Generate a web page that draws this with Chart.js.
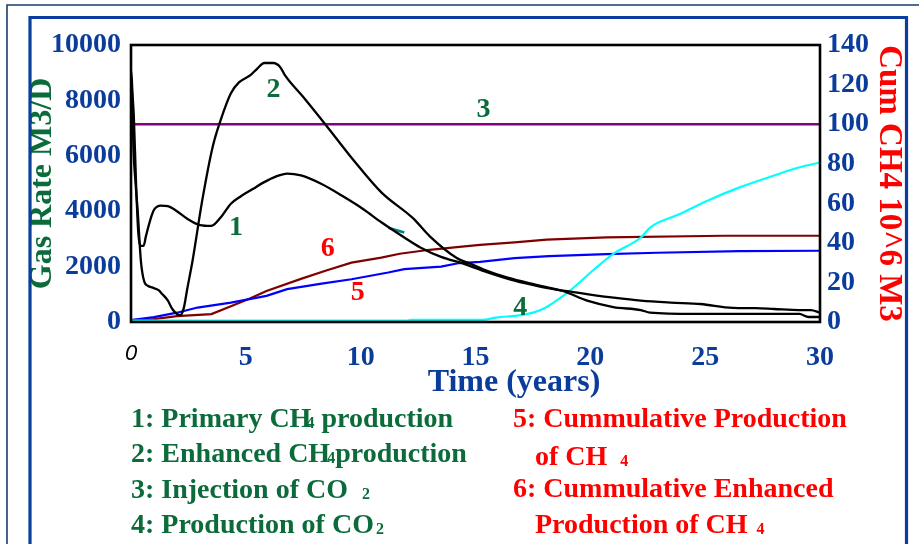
<!DOCTYPE html>
<html>
<head>
<meta charset="utf-8">
<script src="https://cdn.jsdelivr.net/npm/chart.js@4.4.1/dist/chart.umd.min.js"></script>
<style>
html, body { margin: 0; padding: 0; background: #fff; }
#wrap { width: 919px; height: 544px; }
</style>
</head>
<body>
<div id="wrap"><canvas id="chart1" width="919" height="544"></canvas></div>
<script>
// 1: primary CH4 production (gas rate, m3/d)
const primaryTime = [0, 0.12, 0.22, 0.32, 0.45, 0.55, 0.65, 0.87, 1.0, 1.3, 1.6, 2.0, 2.45, 3.0, 3.5, 3.9, 4.35, 4.8, 5.3, 5.8, 6.3, 6.8, 7.4, 8.3, 9.3, 10.1, 10.9, 11.9, 12.6, 13.5, 14.5, 15.5, 16.7, 17.8, 18.9, 20.0, 21.0, 22.2, 23.5, 24.8, 26.2, 27.2, 28.0, 29.1, 29.6, 30];
const primaryRate = [8800, 7500, 5000, 3200, 2750, 2750, 3100, 3770, 4050, 4200, 4180, 4000, 3730, 3500, 3470, 3770, 4270, 4550, 4800, 5050, 5250, 5360, 5290, 4980, 4500, 4080, 3600, 3050, 2690, 2350, 2100, 1800, 1490, 1280, 1120, 990, 880, 770, 700, 650, 510, 500, 470, 430, 430, 340];

// 2: enhanced CH4 production
const enhancedTime = [0, 0.05, 0.1, 0.2, 0.29, 0.43, 0.57, 0.75, 0.94, 1.2, 1.36, 1.6, 1.8, 2.0, 2.15, 2.3, 2.45, 2.68, 3.1, 3.55, 3.9, 4.35, 4.7, 5.2, 5.5, 5.8, 6.2, 6.5, 6.7, 7.5, 8.55, 9.7, 10.9, 12.3, 13.0, 14.2, 14.8, 15.5, 16.4, 17.6, 18.8, 19.9, 21.0, 22.2, 22.6, 24.5, 29.1, 29.5, 30];
const enhancedRate = [9050, 8500, 6450, 5000, 4020, 2210, 1480, 1300, 1240, 1150, 1010, 780, 470, 290, 250, 510, 1200, 2210, 4380, 6300, 7280, 8260, 8650, 8910, 9150, 9350, 9350, 9200, 8910, 8120, 7040, 5830, 4680, 3730, 3100, 2300, 2100, 1850, 1600, 1350, 1120, 760, 540, 430, 340, 290, 290, 180, 180];

// 3: injection of CO2
const injectionTime = [0, 30];
const injectionRate = [7140, 7140];

// 4: production of CO2
const co2Time = [0, 12.0, 12.2, 15.3, 15.9, 17.0, 17.5, 18.0, 18.4, 19.1, 20.1, 21.0, 22.2, 22.6, 23.9, 25.1, 26.5, 28.0, 29.0, 30];
const co2Rate = [50, 50, 80, 80, 160, 250, 340, 500, 700, 1120, 1850, 2460, 3050, 3410, 3900, 4380, 4860, 5290, 5560, 5760];

// 5: cumulative production of CH4 (10^6 m3)
const cumPrimaryTime = [0, 1, 2, 2.9, 4.35, 5.9, 6.8, 8.3, 9.6, 11.2, 11.9, 13.5, 14.3, 15.2, 16.7, 18.2, 20.7, 22.9, 26.5, 30];
const cumPrimary = [1, 2.5, 4.7, 7.3, 9.8, 13.2, 16.6, 19.4, 21.6, 25, 26.7, 28, 29.8, 30.4, 32.3, 33.3, 34.3, 35, 35.8, 36];

// 6: cumulative enhanced production of CH4
const cumEnhancedTime = [0, 1, 2, 3.5, 4.35, 5.2, 5.9, 7.4, 8.5, 9.6, 10.9, 11.7, 13.0, 14.3, 15.2, 16.7, 18.1, 20.7, 25.8, 30];
const cumEnhanced = [1, 1.5, 3, 4, 8, 12, 15.7, 21.8, 26, 30, 32.5, 34.5, 36.5, 38, 39, 40.2, 41.6, 42.8, 43.6, 43.6];

// short teal mark in the original
const tealTime = [11.2, 11.9];
const tealRate = [3400, 3230];

// curve numbers, anchored in data units (time, gas rate)
const curveNames = ['1', '2', '3', '4', '5', '6'];
const curveNameTime = [4.57, 6.2, 15.35, 16.95, 9.87, 8.57];
const curveNameRate = [3400, 8370, 7650, 500, 1050, 2650];

const legendLeft = [
  [{t: '1: Primary CH'}, {t: '4', sub: 1, dx: -5}, {t: ' production'}],
  [{t: '2: Enhanced CH'}, {t: '4', sub: 1, dx: -3}, {t: 'production'}],
  [{t: '3: Injection of CO'}, {t: '2', sub: 1, dx: 14}],
  [{t: '4: Production of CO'}, {t: '2', sub: 1, dx: 2}]
];
const legendRight = [
  [{t: '5: Cummulative Production'}],
  [{t: 'of CH'}, {t: '4', sub: 1, dx: 13}],
  [{t: '6: Cummulative Enhanced'}],
  [{t: 'Production of CH'}, {t: '4', sub: 1, dx: 9}]
];

const serif = '"Liberation Serif", "Times New Roman", serif';
const green = '#0b6b3a';
const navy = '#0a3c9b';
const red = '#ff0000';

function toPoints(xs, ys) {
  return xs.map((x, i) => ({x: x, y: ys[i]}));
}

function drawRuns(ctx, x, y, runs, color) {
  ctx.fillStyle = color;
  ctx.textAlign = 'left';
  ctx.textBaseline = 'alphabetic';
  let cx = x;
  runs.forEach(r => {
    cx += r.dx || 0;
    ctx.font = 'bold ' + (r.sub ? 16 : 28) + 'px ' + serif;
    ctx.fillText(r.t, cx, y + (r.sub ? 1 : 0));
    cx += ctx.measureText(r.t).width;
  });
}

const decor = {
  id: 'decor',
  beforeDraw(chart) {
    const ctx = chart.ctx;
    ctx.save();
    ctx.fillStyle = '#fff';
    ctx.fillRect(0, 0, chart.width, chart.height);
    ctx.restore();
  },
  afterDraw(chart) {
    const ctx = chart.ctx;
    const a = chart.chartArea;
    const sx = chart.scales.x, sy = chart.scales.y;
    ctx.save();
    // outer frames
    ctx.strokeStyle = '#1b3d6e';
    ctx.lineWidth = 1.6;
    ctx.beginPath();
    ctx.moveTo(7, 544); ctx.lineTo(7, 5); ctx.lineTo(919, 5);
    ctx.stroke();
    ctx.strokeStyle = '#0a3d9e';
    ctx.lineWidth = 3.2;
    ctx.beginPath();
    ctx.moveTo(30, 544); ctx.lineTo(30, 17.5); ctx.lineTo(906.5, 17.5); ctx.lineTo(906.5, 544);
    ctx.stroke();
    // plot box
    ctx.strokeStyle = '#000';
    ctx.lineWidth = 2.6;
    ctx.strokeRect(a.left, a.top, a.right - a.left, a.bottom - a.top);

    // curve numbers
    ctx.font = 'bold 28px ' + serif;
    ctx.textAlign = 'center';
    ctx.textBaseline = 'middle';
    curveNames.forEach((n, i) => {
      ctx.fillStyle = i < 4 ? green : red;
      ctx.fillText(n, sx.getPixelForValue(curveNameTime[i]), sy.getPixelForValue(curveNameRate[i]));
    });

    // x axis title
    ctx.fillStyle = navy;
    ctx.font = 'bold 32px ' + serif;
    ctx.textAlign = 'center';
    ctx.textBaseline = 'alphabetic';
    ctx.fillText('Time (years)', 514, 391);

    // legend text
    const baseL = [427, 462, 498, 533];
    const baseR = [427, 465, 497, 533];
    legendLeft.forEach((runs, i) => drawRuns(ctx, 131, baseL[i], runs, green));
    legendRight.forEach((runs, i) => drawRuns(ctx, i % 2 ? 535 : 513, baseR[i], runs, red));
    ctx.restore();
  }
};

const tickFont = {family: serif, size: 28, weight: 'bold'};
const plain = v => String(v);

new Chart(document.getElementById('chart1'), {
  type: 'line',
  data: {
    datasets: [
      {label: 'Primary CH4', data: toPoints(primaryTime, primaryRate), borderColor: '#000', borderWidth: 2.3, yAxisID: 'y', cubicInterpolationMode: 'monotone'},
      {label: 'Enhanced CH4', data: toPoints(enhancedTime, enhancedRate), borderColor: '#000', borderWidth: 2.3, yAxisID: 'y', cubicInterpolationMode: 'monotone'},
      {label: 'Injection CO2', data: toPoints(injectionTime, injectionRate), borderColor: '#800080', borderWidth: 2.5, yAxisID: 'y'},
      {label: 'Production CO2', data: toPoints(co2Time, co2Rate), borderColor: '#00ffff', borderWidth: 2.2, yAxisID: 'y', cubicInterpolationMode: 'monotone'},
      {label: 'Cum CH4', data: toPoints(cumPrimaryTime, cumPrimary), borderColor: '#0000ff', borderWidth: 2.2, yAxisID: 'y1'},
      {label: 'Cum enhanced CH4', data: toPoints(cumEnhancedTime, cumEnhanced), borderColor: '#800000', borderWidth: 2.2, yAxisID: 'y1'},
      {label: 'mark', data: toPoints(tealTime, tealRate), borderColor: '#008080', borderWidth: 2.5, yAxisID: 'y'}
    ]
  },
  options: {
    responsive: false,
    animation: false,
    devicePixelRatio: 1,
    elements: {point: {radius: 0}, line: {fill: false}},
    layout: {padding: {top: 45, left: 0, right: 0, bottom: 0}},
    plugins: {legend: {display: false}, tooltip: {enabled: false}},
    scales: {
      x: {
        type: 'linear', min: 0, max: 30,
        grid: {display: false, drawTicks: false},
        border: {display: false},
        ticks: {
          stepSize: 5, padding: 19, callback: plain,
          font: c => c.index === 0
            ? {family: '"Liberation Sans", Arial, sans-serif', size: 22, style: 'italic', weight: 'normal'}
            : tickFont,
          color: c => c.index === 0 ? '#000' : navy
        },
        afterFit: s => { s.height = 222; s.paddingLeft = 0; s.paddingRight = 0; }
      },
      y: {
        position: 'left', min: 0, max: 10000,
        grid: {display: false, drawTicks: false},
        border: {display: false},
        ticks: {stepSize: 2000, padding: 10, font: tickFont, color: navy, callback: plain},
        title: {display: true, text: 'Gas Rate M3/D', color: green,
          font: {family: serif, size: 32, weight: 'bold', lineHeight: 1},
          padding: {top: 27, bottom: 0}},
        afterFit: s => { s.width = 131; s.paddingTop = 0; s.paddingBottom = 0; }
      },
      y1: {
        position: 'right', min: 0, max: 140,
        grid: {display: false, drawTicks: false},
        border: {display: false},
        ticks: {stepSize: 20, padding: 7, font: tickFont, color: navy, callback: plain},
        title: {display: true, text: 'Cum CH4 10^6 M3', color: red,
          font: {family: serif, size: 33, weight: 'bold', lineHeight: 1},
          padding: {top: 14, bottom: 0}},
        afterFit: s => { s.width = 99; s.paddingTop = 0; s.paddingBottom = 0; }
      }
    }
  },
  plugins: [decor]
});
</script>
</body>
</html>
